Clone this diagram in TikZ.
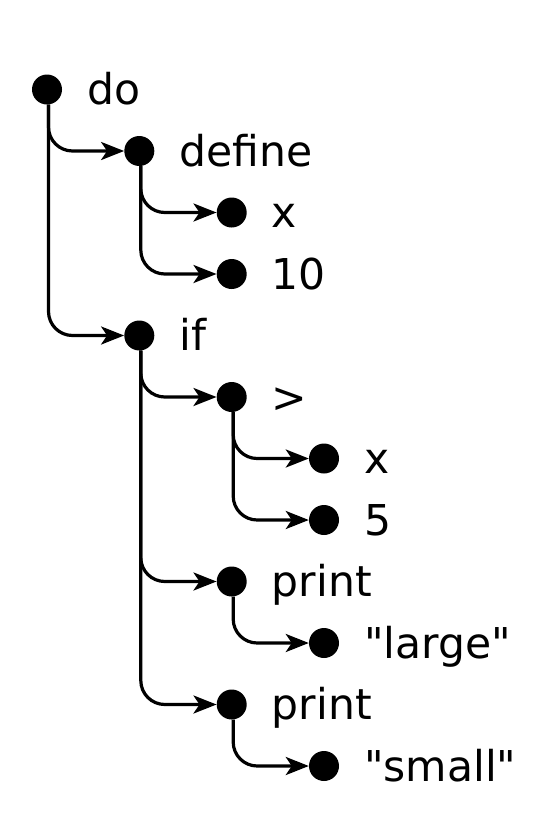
\documentclass[tikz,border=0pt]{standalone}
\usepackage{fontspec}
\setmainfont{DejaVu Sans}
\newfontfamily\labfont{DejaVu Sans}[Ligatures=TeXOff]
\usetikzlibrary{arrows.meta}
\begin{document}
\begin{tikzpicture}[x=1pt,y=-1pt,
  dot/.style={circle, fill=black, inner sep=0pt, minimum size=30pt},
  lab/.style={anchor=base west, inner sep=0pt, font=\labfont\fontsize{42.5}{50}\selectfont},
  edge/.style={draw=black, line width=3.2pt, rounded corners=24pt,
    -{Stealth[length=23pt, width=18pt, inset=6pt]}}]
\useasboundingbox (0,0) rectangle (546,820);
% dots
\node[dot] (n0)  at (47,89.5) {};
\node[dot] (n1)  at (139.3,151) {};
\node[dot] (n2)  at (231.7,212.5) {};
\node[dot] (n3)  at (231.7,274) {};
\node[dot] (n4)  at (139.3,335.5) {};
\node[dot] (n5)  at (231.7,397) {};
\node[dot] (n6)  at (324,458.5) {};
\node[dot] (n7)  at (324,520) {};
\node[dot] (n8)  at (231.7,581.5) {};
\node[dot] (n9)  at (324,643) {};
\node[dot] (n10) at (231.7,704.5) {};
\node[dot] (n11) at (324,766) {};
% labels
\node[lab] (t0)  at ([xshift=40pt,yshift=-15pt]n0.center) {do};
\node[lab] (t1)  at ([xshift=40pt,yshift=-15pt]n1.center) {define};
\node[lab] (t2)  at ([xshift=40pt,yshift=-15pt]n2.center) {x};
\node[lab] (t3)  at ([xshift=40pt,yshift=-15pt]n3.center) {10};
\node[lab] (t4)  at ([xshift=40pt,yshift=-15pt]n4.center) {if};
\node[lab] (t5)  at ([xshift=40pt,yshift=-15pt]n5.center) {>};
\node[lab] (t6)  at ([xshift=40pt,yshift=-15pt]n6.center) {x};
\node[lab] (t7)  at ([xshift=40pt,yshift=-15pt]n7.center) {5};
\node[lab] (t8)  at ([xshift=40pt,yshift=-15pt]n8.center) {print};
\node[lab] (t9)  at ([xshift=40pt,yshift=-15pt]n9.center) {"large"};
\node[lab] (t10) at ([xshift=40pt,yshift=-15pt]n10.center) {print};
\node[lab] (t11) at ([xshift=40pt,yshift=-15pt]n11.center) {"small"};
% edges
\path[edge] ([xshift=1.5pt]n0.south) |- (n1.west);
\path[edge] ([xshift=1.5pt]n0.south) |- (n4.west);
\path[edge] ([xshift=1.5pt]n1.south) |- (n2.west);
\path[edge] ([xshift=1.5pt]n1.south) |- (n3.west);
\path[edge] ([xshift=1.5pt]n4.south) |- (n5.west);
\path[edge] ([xshift=1.5pt]n4.south) |- (n8.west);
\path[edge] ([xshift=1.5pt]n4.south) |- (n10.west);
\path[edge] ([xshift=1.5pt]n5.south) |- (n6.west);
\path[edge] ([xshift=1.5pt]n5.south) |- (n7.west);
\path[edge] ([xshift=1.5pt]n8.south) |- (n9.west);
\path[edge] ([xshift=1.5pt]n10.south) |- (n11.west);
\end{tikzpicture}
\end{document}
